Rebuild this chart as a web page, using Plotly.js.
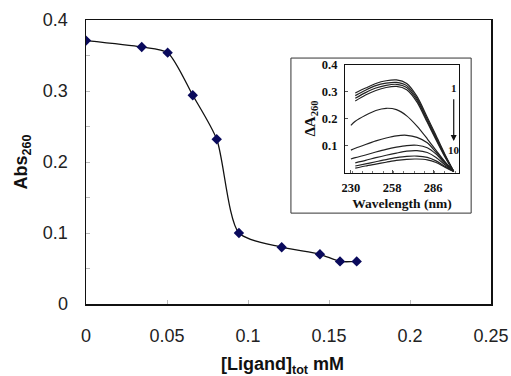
<!DOCTYPE html>
<html>
<head>
<meta charset="utf-8">
<script src="https://cdn.plot.ly/plotly-3.0.1.min.js"></script>
<style>html,body{margin:0;padding:0;background:#fff;}#chart{width:511px;height:376px;}</style>
</head>
<body>
<div id="chart"></div>
<script>
// Main titration data
const ligandConc = [0, 0.0344, 0.0504, 0.0659, 0.0807, 0.0944, 0.1208, 0.1444, 0.1568, 0.1671];
const abs260 = [0.371, 0.362, 0.354, 0.294, 0.232, 0.100, 0.080, 0.070, 0.060, 0.060];

// Inset spectra data
const wavelength = [230, 233, 240, 247, 254, 261, 268, 275, 282, 288, 294, 300];
const spec1  = [null, 0.295, 0.313, 0.330, 0.340, 0.343, 0.330, 0.282, 0.205, 0.137, 0.068, 0.004];
const spec2  = [null, 0.285, 0.305, 0.322, 0.331, 0.334, 0.322, 0.275, 0.198, 0.131, 0.064, 0.004];
const spec3  = [null, 0.275, 0.296, 0.313, 0.323, 0.327, 0.315, 0.268, 0.192, 0.126, 0.061, 0.004];
const spec4  = [null, 0.265, 0.287, 0.304, 0.315, 0.319, 0.307, 0.261, 0.186, 0.121, 0.058, 0.004];
const spec5  = [0.175, 0.190, 0.212, 0.230, 0.238, 0.233, 0.210, 0.172, 0.125, 0.082, 0.040, 0.004];
const spec6  = [0.083, 0.090, 0.104, 0.117, 0.128, 0.136, 0.138, 0.130, 0.110, 0.075, 0.038, 0.004];
const spec7  = [0.050, 0.055, 0.065, 0.076, 0.086, 0.094, 0.100, 0.101, 0.092, 0.068, 0.034, 0.004];
const spec8  = [null, 0.036, 0.045, 0.055, 0.064, 0.072, 0.079, 0.081, 0.074, 0.056, 0.029, 0.004];
const spec9  = [null, 0.024, 0.032, 0.040, 0.048, 0.055, 0.060, 0.061, 0.056, 0.043, 0.023, 0.004];
const spec10 = [null, 0.016, 0.024, 0.031, 0.038, 0.045, 0.049, 0.050, 0.047, 0.037, 0.020, 0.004];
const spectra = [spec1, spec2, spec3, spec4, spec5, spec6, spec7, spec8, spec9, spec10];

const xTicks = [0, 0.05, 0.1, 0.15, 0.2, 0.25];
const xTickText = ['0', '0.05', '0.1', '0.15', '0.2', '0.25'];
const yTicks = [0, 0.1, 0.2, 0.3, 0.4];
const yTickText = ['0', '0.1', '0.2', '0.3', '0.4'];
const insetXTicks = [230, 258, 286];
const insetYTicks = [0.1, 0.2, 0.3, 0.4];
const insetYTickText = ['0.1', '0.2', '0.3', '0.4'];
const xTitle = '[Ligand]<sub>tot</sub> mM';

const sans = 'Liberation Sans, Arial, sans-serif';
const serif = 'Liberation Serif, Times New Roman, serif';

const traces = [{
  x: ligandConc, y: abs260, type: 'scatter', mode: 'lines+markers',
  line: {color: '#111', width: 1.3, shape: 'spline', smoothing: 0.7},
  marker: {symbol: 'diamond', size: 8, color: '#0a0a5c'},
  xaxis: 'x', yaxis: 'y', showlegend: false, hoverinfo: 'skip'
}];
spectra.forEach(s => traces.push({
  x: wavelength, y: s, type: 'scatter', mode: 'lines',
  line: {color: '#222', width: 1.2, shape: 'spline', smoothing: 0.8},
  xaxis: 'x2', yaxis: 'y2', showlegend: false, hoverinfo: 'skip', connectgaps: false
}));

const layout = {
  width: 511, height: 376,
  margin: {l: 86, r: 20, t: 20, b: 72},
  paper_bgcolor: '#fff', plot_bgcolor: 'rgba(0,0,0,0)',
  showlegend: false,
  xaxis: {
    domain: [0, 1], range: [0, 0.25], tickvals: xTicks, ticktext: xTickText,
    showline: true, linecolor: '#111', linewidth: 1.5, mirror: true,
    ticks: 'inside', ticklen: 4, tickcolor: '#bbb', showgrid: false, zeroline: false,
    tickfont: {family: sans, size: 18, color: '#222'}, ticklabelstandoff: 15
  },
  yaxis: {
    domain: [0, 1], range: [0, 0.4], tickvals: yTicks, ticktext: yTickText,
    showline: true, linecolor: '#111', linewidth: 1.5, mirror: true,
    ticks: 'inside', ticklen: 4, tickcolor: '#bbb', showgrid: false, zeroline: false,
    minor: {dtick: 0.05, ticks: 'inside', ticklen: 4, tickcolor: '#bbb'},
    tickfont: {family: sans, size: 18, color: '#222'}, ticklabelstandoff: 13,
    title: {text: 'Abs<sub>260</sub>', font: {family: sans, size: 18, color: '#111', weight: 'bold'}, standoff: 10}
  },
  xaxis2: {
    domain: [0.6395, 0.921], anchor: 'y2', range: [226, 303.6], tickvals: insetXTicks,
    showline: true, linecolor: '#111', linewidth: 1, mirror: true,
    ticks: 'inside', ticklen: 3, tickcolor: '#555', showgrid: false, zeroline: false,
    minor: {dtick: 7, ticks: 'inside', ticklen: 2, tickcolor: '#777'},
    tickfont: {family: serif, size: 12.5, color: '#111', weight: 'bold'}, ticklabelstandoff: 3,
    title: {text: 'Wavelength (nm)', font: {family: serif, size: 13.5, color: '#111', weight: 'bold'}, standoff: 5}
  },
  yaxis2: {
    domain: [0.463, 0.843], anchor: 'x2', range: [0, 0.4], tickvals: insetYTicks, ticktext: insetYTickText,
    showline: true, linecolor: '#111', linewidth: 1, mirror: true,
    ticks: 'inside', ticklen: 3, tickcolor: '#555', showgrid: false, zeroline: false,
    tickfont: {family: serif, size: 12.5, color: '#111', weight: 'bold'}, ticklabelstandoff: 4,
    title: {text: 'ΔA<sub>260</sub>', font: {family: serif, size: 15, color: '#111', weight: 'bold'}, standoff: 2}
  },
  shapes: [{
    type: 'rect', xref: 'paper', yref: 'paper', x0: 0.506, x1: 0.951, y0: 0.320, y1: 0.866,
    line: {color: '#333', width: 1}, fillcolor: '#fff', layer: 'below'
  }],
  annotations: [
    {xref: 'paper', yref: 'paper', x: 0.484, y: -0.215, xanchor: 'center', yanchor: 'middle',
     text: xTitle, showarrow: false,
     font: {family: sans, size: 18, color: '#111', weight: 'bold'}},
    {xref: 'x2', yref: 'y2', x: 300, y: 0.313, text: '1', showarrow: false,
     font: {family: serif, size: 11, color: '#111', weight: 'bold'}},
    {xref: 'x2', yref: 'y2', x: 300, y: 0.083, text: '10', showarrow: false,
     font: {family: serif, size: 11, color: '#111', weight: 'bold'}},
    {xref: 'x2', yref: 'y2', axref: 'x2', ayref: 'y2', x: 300, y: 0.117, ax: 300, ay: 0.277,
     text: '', showarrow: true, arrowhead: 2, arrowsize: 1, arrowwidth: 1.2, arrowcolor: '#111'}
  ]
};

Plotly.newPlot('chart', traces, layout, {staticPlot: true, displayModeBar: false});
</script>
</body>
</html>
